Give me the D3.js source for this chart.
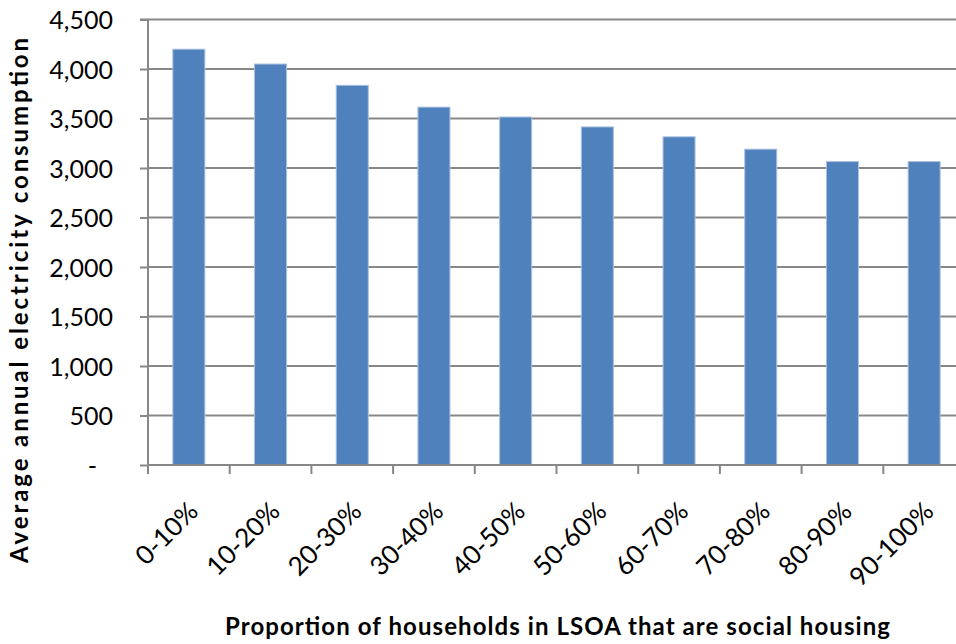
<!DOCTYPE html>
<html><head><meta charset="utf-8">
<script src="https://cdn.jsdelivr.net/npm/d3@7"></script>
<style>body{margin:0;background:#fff}svg{display:block}</style>
</head><body>
<svg id="c" width="956" height="644"></svg>
<script>
const categories = ["0-10%","10-20%","20-30%","30-40%","40-50%","50-60%","60-70%","70-80%","80-90%","90-100%"];
const values = [4200, 4050, 3835, 3615, 3515, 3415, 3315, 3190, 3065, 3065];
const yTicks = [0, 500, 1000, 1500, 2000, 2500, 3000, 3500, 4000, 4500];
const yTitle = "Average annual electricity consumption";
const xTitle = "Proportion of households in LSOA that are social housing";

(function () {
const svg = d3.select("#c");
const pLeft = 148, pRight = 965, pTop = 19.5, pBottom = 465;
const font = "Lato, 'Open Sans', sans-serif";

const xb = d3.scaleBand().domain(categories).range([pLeft, pRight]);
const y = d3.scaleLinear().domain([0, 4500]).range([pBottom, pTop]);

// gridlines
svg.append("g").selectAll("line").data(yTicks.filter(d => d > 0)).join("line")
  .attr("x1", pLeft).attr("x2", 956).attr("y1", d => y(d)).attr("y2", d => y(d))
  .attr("stroke", "#878787").attr("stroke-width", 2);

// bars
svg.append("g").selectAll("rect").data(values).join("rect")
  .attr("x", (d, i) => xb(categories[i]) + xb.bandwidth() / 2 - 16)
  .attr("width", 32)
  .attr("y", d => y(d)).attr("height", d => pBottom - y(d))
  .attr("fill", "#4F81BD").attr("stroke", "#A9C0E0").attr("stroke-width", 1);

// y axis
const yAxis = d3.axisLeft(y).tickValues(yTicks).tickSize(8).tickPadding(27)
  .tickFormat(d => d === 0 ? "-" : d3.format(",")(d));
const ga = svg.append("g").attr("transform", `translate(${pLeft},0)`).call(yAxis);
ga.select(".domain").attr("stroke", "#878787").attr("stroke-width", 2).attr("d", `M-8,${pTop}H0V${pBottom}`);
ga.selectAll(".tick line").attr("stroke", "#878787").attr("stroke-width", 2);
ga.selectAll(".tick text").attr("font-family", font).attr("font-size", 25).attr("fill", "#000")
  .attr("dy", "0.36em");
ga.selectAll(".tick").filter(d => d === 0).select("text").attr("dx", -16);

// x axis
const xAxis = d3.axisBottom(xb).tickSize(9).tickFormat("");
const gx = svg.append("g").attr("transform", `translate(0,${pBottom})`).call(xAxis);
gx.select(".domain").attr("stroke", "#878787").attr("stroke-width", 2).attr("d", `M${pLeft},0H${pRight}`);
gx.selectAll(".tick").attr("transform", d => `translate(${xb(d)},0)`);
gx.selectAll(".tick line").attr("stroke", "#878787").attr("stroke-width", 2);

// x tick labels
svg.append("g").selectAll("text").data(categories).join("text")
  .attr("transform", d => `translate(${xb(d) + xb.bandwidth() / 2 + 11},${pBottom + 48}) rotate(-45)`)
  .attr("text-anchor", "end")
  .attr("font-family", font).attr("font-size", 26).attr("fill", "#000")
  .text(d => d);

// titles
svg.append("text").attr("transform", `translate(28,300.5) rotate(-90)`)
  .attr("text-anchor", "middle").attr("font-family", font).attr("font-weight", "bold")
  .attr("font-size", 24).attr("fill", "#000")
  .attr("textLength", 525).attr("lengthAdjust", "spacing").text(yTitle);
svg.append("text").attr("x", 557.5).attr("y", 635)
  .attr("text-anchor", "middle").attr("font-family", font).attr("font-weight", "bold")
  .attr("font-size", 24).attr("fill", "#000")
  .attr("textLength", 665).attr("lengthAdjust", "spacing").text(xTitle);
})();
</script>
</body></html>
